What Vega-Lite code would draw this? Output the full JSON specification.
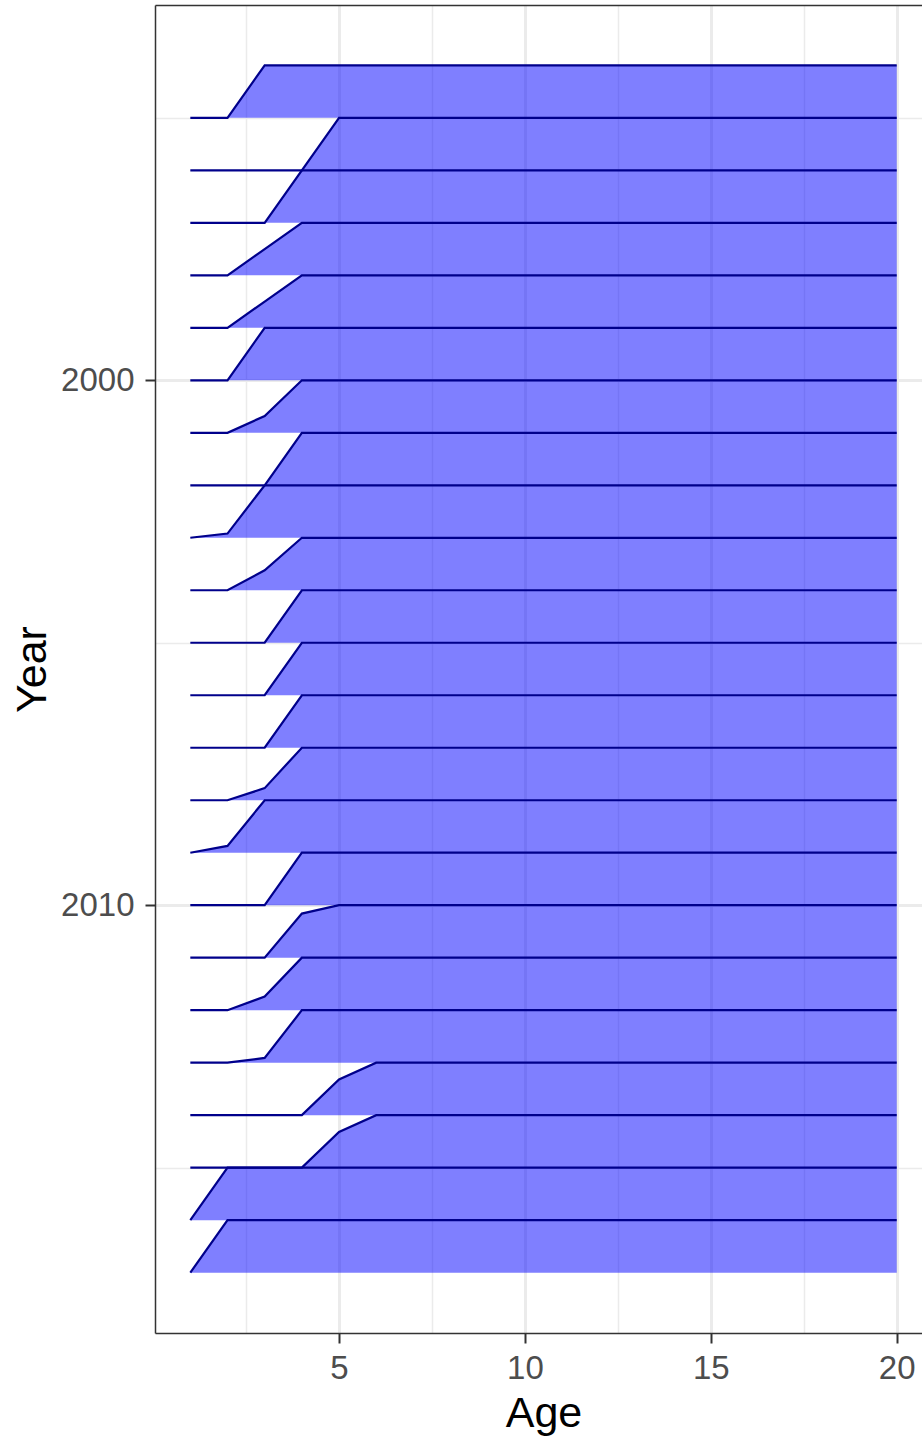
{
"$schema": "https://vega.github.io/schema/vega-lite/v6.json",
"autosize": {"type": "none"},
"padding": {"left": 155, "top": 5, "right": 0, "bottom": 108},
"width": 767,
"height": 1328,
"background": "white",
"config": {"view": {"stroke": null}, "font": "Liberation Sans"},
"data": {"values": [
{"year":1995,"age":1,"p":0},{"year":1995,"age":2,"p":0},{"year":1995,"age":3,"p":1},{"year":1995,"age":4,"p":1},{"year":1995,"age":5,"p":1},{"year":1995,"age":6,"p":1},{"year":1995,"age":7,"p":1},{"year":1995,"age":8,"p":1},{"year":1995,"age":9,"p":1},{"year":1995,"age":10,"p":1},{"year":1995,"age":11,"p":1},{"year":1995,"age":12,"p":1},{"year":1995,"age":13,"p":1},{"year":1995,"age":14,"p":1},{"year":1995,"age":15,"p":1},{"year":1995,"age":16,"p":1},{"year":1995,"age":17,"p":1},{"year":1995,"age":18,"p":1},{"year":1995,"age":19,"p":1},{"year":1995,"age":20,"p":1},
{"year":1996,"age":1,"p":0},{"year":1996,"age":2,"p":0},{"year":1996,"age":3,"p":0},{"year":1996,"age":4,"p":0},{"year":1996,"age":5,"p":1},{"year":1996,"age":6,"p":1},{"year":1996,"age":7,"p":1},{"year":1996,"age":8,"p":1},{"year":1996,"age":9,"p":1},{"year":1996,"age":10,"p":1},{"year":1996,"age":11,"p":1},{"year":1996,"age":12,"p":1},{"year":1996,"age":13,"p":1},{"year":1996,"age":14,"p":1},{"year":1996,"age":15,"p":1},{"year":1996,"age":16,"p":1},{"year":1996,"age":17,"p":1},{"year":1996,"age":18,"p":1},{"year":1996,"age":19,"p":1},{"year":1996,"age":20,"p":1},
{"year":1997,"age":1,"p":0},{"year":1997,"age":2,"p":0},{"year":1997,"age":3,"p":0},{"year":1997,"age":4,"p":1},{"year":1997,"age":5,"p":1},{"year":1997,"age":6,"p":1},{"year":1997,"age":7,"p":1},{"year":1997,"age":8,"p":1},{"year":1997,"age":9,"p":1},{"year":1997,"age":10,"p":1},{"year":1997,"age":11,"p":1},{"year":1997,"age":12,"p":1},{"year":1997,"age":13,"p":1},{"year":1997,"age":14,"p":1},{"year":1997,"age":15,"p":1},{"year":1997,"age":16,"p":1},{"year":1997,"age":17,"p":1},{"year":1997,"age":18,"p":1},{"year":1997,"age":19,"p":1},{"year":1997,"age":20,"p":1},
{"year":1998,"age":1,"p":0},{"year":1998,"age":2,"p":0},{"year":1998,"age":3,"p":0.5},{"year":1998,"age":4,"p":1},{"year":1998,"age":5,"p":1},{"year":1998,"age":6,"p":1},{"year":1998,"age":7,"p":1},{"year":1998,"age":8,"p":1},{"year":1998,"age":9,"p":1},{"year":1998,"age":10,"p":1},{"year":1998,"age":11,"p":1},{"year":1998,"age":12,"p":1},{"year":1998,"age":13,"p":1},{"year":1998,"age":14,"p":1},{"year":1998,"age":15,"p":1},{"year":1998,"age":16,"p":1},{"year":1998,"age":17,"p":1},{"year":1998,"age":18,"p":1},{"year":1998,"age":19,"p":1},{"year":1998,"age":20,"p":1},
{"year":1999,"age":1,"p":0},{"year":1999,"age":2,"p":0},{"year":1999,"age":3,"p":0.5},{"year":1999,"age":4,"p":1},{"year":1999,"age":5,"p":1},{"year":1999,"age":6,"p":1},{"year":1999,"age":7,"p":1},{"year":1999,"age":8,"p":1},{"year":1999,"age":9,"p":1},{"year":1999,"age":10,"p":1},{"year":1999,"age":11,"p":1},{"year":1999,"age":12,"p":1},{"year":1999,"age":13,"p":1},{"year":1999,"age":14,"p":1},{"year":1999,"age":15,"p":1},{"year":1999,"age":16,"p":1},{"year":1999,"age":17,"p":1},{"year":1999,"age":18,"p":1},{"year":1999,"age":19,"p":1},{"year":1999,"age":20,"p":1},
{"year":2000,"age":1,"p":0},{"year":2000,"age":2,"p":0},{"year":2000,"age":3,"p":1},{"year":2000,"age":4,"p":1},{"year":2000,"age":5,"p":1},{"year":2000,"age":6,"p":1},{"year":2000,"age":7,"p":1},{"year":2000,"age":8,"p":1},{"year":2000,"age":9,"p":1},{"year":2000,"age":10,"p":1},{"year":2000,"age":11,"p":1},{"year":2000,"age":12,"p":1},{"year":2000,"age":13,"p":1},{"year":2000,"age":14,"p":1},{"year":2000,"age":15,"p":1},{"year":2000,"age":16,"p":1},{"year":2000,"age":17,"p":1},{"year":2000,"age":18,"p":1},{"year":2000,"age":19,"p":1},{"year":2000,"age":20,"p":1},
{"year":2001,"age":1,"p":0},{"year":2001,"age":2,"p":0},{"year":2001,"age":3,"p":0.32},{"year":2001,"age":4,"p":1},{"year":2001,"age":5,"p":1},{"year":2001,"age":6,"p":1},{"year":2001,"age":7,"p":1},{"year":2001,"age":8,"p":1},{"year":2001,"age":9,"p":1},{"year":2001,"age":10,"p":1},{"year":2001,"age":11,"p":1},{"year":2001,"age":12,"p":1},{"year":2001,"age":13,"p":1},{"year":2001,"age":14,"p":1},{"year":2001,"age":15,"p":1},{"year":2001,"age":16,"p":1},{"year":2001,"age":17,"p":1},{"year":2001,"age":18,"p":1},{"year":2001,"age":19,"p":1},{"year":2001,"age":20,"p":1},
{"year":2002,"age":1,"p":0},{"year":2002,"age":2,"p":0},{"year":2002,"age":3,"p":0},{"year":2002,"age":4,"p":1},{"year":2002,"age":5,"p":1},{"year":2002,"age":6,"p":1},{"year":2002,"age":7,"p":1},{"year":2002,"age":8,"p":1},{"year":2002,"age":9,"p":1},{"year":2002,"age":10,"p":1},{"year":2002,"age":11,"p":1},{"year":2002,"age":12,"p":1},{"year":2002,"age":13,"p":1},{"year":2002,"age":14,"p":1},{"year":2002,"age":15,"p":1},{"year":2002,"age":16,"p":1},{"year":2002,"age":17,"p":1},{"year":2002,"age":18,"p":1},{"year":2002,"age":19,"p":1},{"year":2002,"age":20,"p":1},
{"year":2003,"age":1,"p":0},{"year":2003,"age":2,"p":0.08},{"year":2003,"age":3,"p":1},{"year":2003,"age":4,"p":1},{"year":2003,"age":5,"p":1},{"year":2003,"age":6,"p":1},{"year":2003,"age":7,"p":1},{"year":2003,"age":8,"p":1},{"year":2003,"age":9,"p":1},{"year":2003,"age":10,"p":1},{"year":2003,"age":11,"p":1},{"year":2003,"age":12,"p":1},{"year":2003,"age":13,"p":1},{"year":2003,"age":14,"p":1},{"year":2003,"age":15,"p":1},{"year":2003,"age":16,"p":1},{"year":2003,"age":17,"p":1},{"year":2003,"age":18,"p":1},{"year":2003,"age":19,"p":1},{"year":2003,"age":20,"p":1},
{"year":2004,"age":1,"p":0},{"year":2004,"age":2,"p":0},{"year":2004,"age":3,"p":0.38},{"year":2004,"age":4,"p":1},{"year":2004,"age":5,"p":1},{"year":2004,"age":6,"p":1},{"year":2004,"age":7,"p":1},{"year":2004,"age":8,"p":1},{"year":2004,"age":9,"p":1},{"year":2004,"age":10,"p":1},{"year":2004,"age":11,"p":1},{"year":2004,"age":12,"p":1},{"year":2004,"age":13,"p":1},{"year":2004,"age":14,"p":1},{"year":2004,"age":15,"p":1},{"year":2004,"age":16,"p":1},{"year":2004,"age":17,"p":1},{"year":2004,"age":18,"p":1},{"year":2004,"age":19,"p":1},{"year":2004,"age":20,"p":1},
{"year":2005,"age":1,"p":0},{"year":2005,"age":2,"p":0},{"year":2005,"age":3,"p":0},{"year":2005,"age":4,"p":1},{"year":2005,"age":5,"p":1},{"year":2005,"age":6,"p":1},{"year":2005,"age":7,"p":1},{"year":2005,"age":8,"p":1},{"year":2005,"age":9,"p":1},{"year":2005,"age":10,"p":1},{"year":2005,"age":11,"p":1},{"year":2005,"age":12,"p":1},{"year":2005,"age":13,"p":1},{"year":2005,"age":14,"p":1},{"year":2005,"age":15,"p":1},{"year":2005,"age":16,"p":1},{"year":2005,"age":17,"p":1},{"year":2005,"age":18,"p":1},{"year":2005,"age":19,"p":1},{"year":2005,"age":20,"p":1},
{"year":2006,"age":1,"p":0},{"year":2006,"age":2,"p":0},{"year":2006,"age":3,"p":0},{"year":2006,"age":4,"p":1},{"year":2006,"age":5,"p":1},{"year":2006,"age":6,"p":1},{"year":2006,"age":7,"p":1},{"year":2006,"age":8,"p":1},{"year":2006,"age":9,"p":1},{"year":2006,"age":10,"p":1},{"year":2006,"age":11,"p":1},{"year":2006,"age":12,"p":1},{"year":2006,"age":13,"p":1},{"year":2006,"age":14,"p":1},{"year":2006,"age":15,"p":1},{"year":2006,"age":16,"p":1},{"year":2006,"age":17,"p":1},{"year":2006,"age":18,"p":1},{"year":2006,"age":19,"p":1},{"year":2006,"age":20,"p":1},
{"year":2007,"age":1,"p":0},{"year":2007,"age":2,"p":0},{"year":2007,"age":3,"p":0},{"year":2007,"age":4,"p":1},{"year":2007,"age":5,"p":1},{"year":2007,"age":6,"p":1},{"year":2007,"age":7,"p":1},{"year":2007,"age":8,"p":1},{"year":2007,"age":9,"p":1},{"year":2007,"age":10,"p":1},{"year":2007,"age":11,"p":1},{"year":2007,"age":12,"p":1},{"year":2007,"age":13,"p":1},{"year":2007,"age":14,"p":1},{"year":2007,"age":15,"p":1},{"year":2007,"age":16,"p":1},{"year":2007,"age":17,"p":1},{"year":2007,"age":18,"p":1},{"year":2007,"age":19,"p":1},{"year":2007,"age":20,"p":1},
{"year":2008,"age":1,"p":0},{"year":2008,"age":2,"p":0},{"year":2008,"age":3,"p":0.23},{"year":2008,"age":4,"p":1},{"year":2008,"age":5,"p":1},{"year":2008,"age":6,"p":1},{"year":2008,"age":7,"p":1},{"year":2008,"age":8,"p":1},{"year":2008,"age":9,"p":1},{"year":2008,"age":10,"p":1},{"year":2008,"age":11,"p":1},{"year":2008,"age":12,"p":1},{"year":2008,"age":13,"p":1},{"year":2008,"age":14,"p":1},{"year":2008,"age":15,"p":1},{"year":2008,"age":16,"p":1},{"year":2008,"age":17,"p":1},{"year":2008,"age":18,"p":1},{"year":2008,"age":19,"p":1},{"year":2008,"age":20,"p":1},
{"year":2009,"age":1,"p":0},{"year":2009,"age":2,"p":0.13},{"year":2009,"age":3,"p":1},{"year":2009,"age":4,"p":1},{"year":2009,"age":5,"p":1},{"year":2009,"age":6,"p":1},{"year":2009,"age":7,"p":1},{"year":2009,"age":8,"p":1},{"year":2009,"age":9,"p":1},{"year":2009,"age":10,"p":1},{"year":2009,"age":11,"p":1},{"year":2009,"age":12,"p":1},{"year":2009,"age":13,"p":1},{"year":2009,"age":14,"p":1},{"year":2009,"age":15,"p":1},{"year":2009,"age":16,"p":1},{"year":2009,"age":17,"p":1},{"year":2009,"age":18,"p":1},{"year":2009,"age":19,"p":1},{"year":2009,"age":20,"p":1},
{"year":2010,"age":1,"p":0},{"year":2010,"age":2,"p":0},{"year":2010,"age":3,"p":0},{"year":2010,"age":4,"p":1},{"year":2010,"age":5,"p":1},{"year":2010,"age":6,"p":1},{"year":2010,"age":7,"p":1},{"year":2010,"age":8,"p":1},{"year":2010,"age":9,"p":1},{"year":2010,"age":10,"p":1},{"year":2010,"age":11,"p":1},{"year":2010,"age":12,"p":1},{"year":2010,"age":13,"p":1},{"year":2010,"age":14,"p":1},{"year":2010,"age":15,"p":1},{"year":2010,"age":16,"p":1},{"year":2010,"age":17,"p":1},{"year":2010,"age":18,"p":1},{"year":2010,"age":19,"p":1},{"year":2010,"age":20,"p":1},
{"year":2011,"age":1,"p":0},{"year":2011,"age":2,"p":0},{"year":2011,"age":3,"p":0},{"year":2011,"age":4,"p":0.84},{"year":2011,"age":5,"p":1},{"year":2011,"age":6,"p":1},{"year":2011,"age":7,"p":1},{"year":2011,"age":8,"p":1},{"year":2011,"age":9,"p":1},{"year":2011,"age":10,"p":1},{"year":2011,"age":11,"p":1},{"year":2011,"age":12,"p":1},{"year":2011,"age":13,"p":1},{"year":2011,"age":14,"p":1},{"year":2011,"age":15,"p":1},{"year":2011,"age":16,"p":1},{"year":2011,"age":17,"p":1},{"year":2011,"age":18,"p":1},{"year":2011,"age":19,"p":1},{"year":2011,"age":20,"p":1},
{"year":2012,"age":1,"p":0},{"year":2012,"age":2,"p":0},{"year":2012,"age":3,"p":0.26},{"year":2012,"age":4,"p":1},{"year":2012,"age":5,"p":1},{"year":2012,"age":6,"p":1},{"year":2012,"age":7,"p":1},{"year":2012,"age":8,"p":1},{"year":2012,"age":9,"p":1},{"year":2012,"age":10,"p":1},{"year":2012,"age":11,"p":1},{"year":2012,"age":12,"p":1},{"year":2012,"age":13,"p":1},{"year":2012,"age":14,"p":1},{"year":2012,"age":15,"p":1},{"year":2012,"age":16,"p":1},{"year":2012,"age":17,"p":1},{"year":2012,"age":18,"p":1},{"year":2012,"age":19,"p":1},{"year":2012,"age":20,"p":1},
{"year":2013,"age":1,"p":0},{"year":2013,"age":2,"p":0},{"year":2013,"age":3,"p":0.09},{"year":2013,"age":4,"p":1},{"year":2013,"age":5,"p":1},{"year":2013,"age":6,"p":1},{"year":2013,"age":7,"p":1},{"year":2013,"age":8,"p":1},{"year":2013,"age":9,"p":1},{"year":2013,"age":10,"p":1},{"year":2013,"age":11,"p":1},{"year":2013,"age":12,"p":1},{"year":2013,"age":13,"p":1},{"year":2013,"age":14,"p":1},{"year":2013,"age":15,"p":1},{"year":2013,"age":16,"p":1},{"year":2013,"age":17,"p":1},{"year":2013,"age":18,"p":1},{"year":2013,"age":19,"p":1},{"year":2013,"age":20,"p":1},
{"year":2014,"age":1,"p":0},{"year":2014,"age":2,"p":0},{"year":2014,"age":3,"p":0},{"year":2014,"age":4,"p":0},{"year":2014,"age":5,"p":0.68},{"year":2014,"age":6,"p":1},{"year":2014,"age":7,"p":1},{"year":2014,"age":8,"p":1},{"year":2014,"age":9,"p":1},{"year":2014,"age":10,"p":1},{"year":2014,"age":11,"p":1},{"year":2014,"age":12,"p":1},{"year":2014,"age":13,"p":1},{"year":2014,"age":14,"p":1},{"year":2014,"age":15,"p":1},{"year":2014,"age":16,"p":1},{"year":2014,"age":17,"p":1},{"year":2014,"age":18,"p":1},{"year":2014,"age":19,"p":1},{"year":2014,"age":20,"p":1},
{"year":2015,"age":1,"p":0},{"year":2015,"age":2,"p":0},{"year":2015,"age":3,"p":0},{"year":2015,"age":4,"p":0},{"year":2015,"age":5,"p":0.68},{"year":2015,"age":6,"p":1},{"year":2015,"age":7,"p":1},{"year":2015,"age":8,"p":1},{"year":2015,"age":9,"p":1},{"year":2015,"age":10,"p":1},{"year":2015,"age":11,"p":1},{"year":2015,"age":12,"p":1},{"year":2015,"age":13,"p":1},{"year":2015,"age":14,"p":1},{"year":2015,"age":15,"p":1},{"year":2015,"age":16,"p":1},{"year":2015,"age":17,"p":1},{"year":2015,"age":18,"p":1},{"year":2015,"age":19,"p":1},{"year":2015,"age":20,"p":1},
{"year":2016,"age":1,"p":0},{"year":2016,"age":2,"p":1},{"year":2016,"age":3,"p":1},{"year":2016,"age":4,"p":1},{"year":2016,"age":5,"p":1},{"year":2016,"age":6,"p":1},{"year":2016,"age":7,"p":1},{"year":2016,"age":8,"p":1},{"year":2016,"age":9,"p":1},{"year":2016,"age":10,"p":1},{"year":2016,"age":11,"p":1},{"year":2016,"age":12,"p":1},{"year":2016,"age":13,"p":1},{"year":2016,"age":14,"p":1},{"year":2016,"age":15,"p":1},{"year":2016,"age":16,"p":1},{"year":2016,"age":17,"p":1},{"year":2016,"age":18,"p":1},{"year":2016,"age":19,"p":1},{"year":2016,"age":20,"p":1},
{"year":2017,"age":1,"p":0},{"year":2017,"age":2,"p":1},{"year":2017,"age":3,"p":1},{"year":2017,"age":4,"p":1},{"year":2017,"age":5,"p":1},{"year":2017,"age":6,"p":1},{"year":2017,"age":7,"p":1},{"year":2017,"age":8,"p":1},{"year":2017,"age":9,"p":1},{"year":2017,"age":10,"p":1},{"year":2017,"age":11,"p":1},{"year":2017,"age":12,"p":1},{"year":2017,"age":13,"p":1},{"year":2017,"age":14,"p":1},{"year":2017,"age":15,"p":1},{"year":2017,"age":16,"p":1},{"year":2017,"age":17,"p":1},{"year":2017,"age":18,"p":1},{"year":2017,"age":19,"p":1},{"year":2017,"age":20,"p":1}
]},
"transform": [{"calculate": "datum.year - datum.p", "as": "top"}],
"layer": [
{
"mark": {"type": "area", "fill": "#0000FF", "fillOpacity": 0.5},
"encoding": {
"x": {"field": "age", "type": "quantitative",
"scale": {"domain": [0.05, 20.68], "nice": false, "zero": false},
"axis": {"orient": "bottom", "values": [5, 10, 15, 20], "format": "d", "grid": true, "gridColor": "#EBEBEB", "gridWidth": 3,
"domain": true, "domainColor": "#333333", "domainWidth": 1.5, "ticks": true, "tickColor": "#333333", "tickWidth": 2, "tickSize": 10,
"labelFontSize": 33, "labelColor": "#4D4D4D", "labelPadding": 9, "labelFont": "Liberation Sans",
"title": "Age", "titleFontSize": 43, "titleFontWeight": "normal", "titleColor": "#000000", "titlePadding": 7, "titleFont": "Liberation Sans", "titleX": 388.5}},
"y": {"field": "top", "type": "quantitative",
"scale": {"domain": [1992.85, 2018.15], "reverse": true, "nice": false, "zero": false},
"axis": {"orient": "left", "values": [2000, 2010], "format": "d", "grid": true, "gridColor": "#EBEBEB", "gridWidth": 3,
"domain": true, "domainColor": "#333333", "domainWidth": 1.5, "ticks": true, "tickColor": "#333333", "tickWidth": 2, "tickSize": 10,
"labelFontSize": 33, "labelColor": "#4D4D4D", "labelPadding": 11, "labelFont": "Liberation Sans",
"title": "Year", "titleFontSize": 43, "titleFontWeight": "normal", "titleColor": "#000000", "titlePadding": 6, "titleFont": "Liberation Sans"}},
"y2": {"field": "year"},
"detail": {"field": "year", "type": "quantitative"}
}
},
{
"mark": {"type": "line", "stroke": "#00008B", "strokeWidth": 2.2},
"encoding": {
"x": {"field": "age", "type": "quantitative",
"axis": {"orient": "top", "values": [2.5, 7.5, 12.5, 17.5], "grid": true, "gridColor": "#EBEBEB", "gridWidth": 1.5,
"labels": false, "ticks": false, "domain": true, "domainColor": "#333333", "domainWidth": 1.5, "title": null}},
"y": {"field": "top", "type": "quantitative",
"axis": {"orient": "right", "values": [1995, 2005, 2015], "grid": true, "gridColor": "#EBEBEB", "gridWidth": 1.5,
"labels": false, "ticks": false, "domain": false, "title": null}},
"detail": {"field": "year", "type": "quantitative"}
}
}
],
"resolve": {"axis": {"x": "independent", "y": "independent"}}
}
